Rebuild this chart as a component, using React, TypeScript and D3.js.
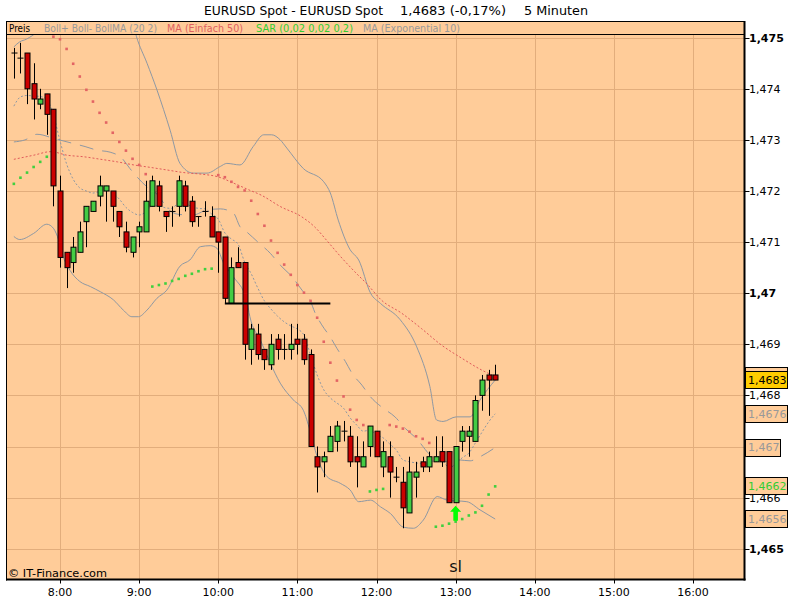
import { useEffect } from 'react';
import * as d3 from 'd3';

// 5-minute bars, first bar at 7:25
const firstBarMinute = 7 * 60 + 25;
const barMinutes = 5;

const opens = [
  1.4747, 1.4746, 1.4747, 1.4741, 1.4737, 1.4739, 1.4736, 1.472, 1.4708, 1.4706,
  1.4708, 1.4714, 1.4716, 1.4719, 1.472, 1.472, 1.4716, 1.4712, 1.4708, 1.4712,
  1.4712, 1.4717, 1.4721, 1.4716, 1.4716, 1.4717, 1.4721, 1.4718, 1.4715, 1.4716,
  1.4715, 1.4712, 1.4711, 1.4698, 1.4706, 1.4706, 1.4689, 1.4692, 1.4689, 1.4686,
  1.4691, 1.4689, 1.4689, 1.4691, 1.4691, 1.4688, 1.4668, 1.4667, 1.4669, 1.4671,
  1.4673, 1.4672, 1.4668, 1.4666, 1.467, 1.4673, 1.4666, 1.4668, 1.4664, 1.4663,
  1.4657, 1.4664, 1.4667, 1.4666, 1.4667, 1.4669, 1.4669, 1.4659, 1.4671, 1.4672,
  1.4671, 1.468, 1.4684, 1.4684,
];
const highs = [
  1.4748, 1.4749, 1.4747, 1.4745, 1.474, 1.4739, 1.4736, 1.4723, 1.4708, 1.4711,
  1.4714, 1.4717, 1.4718, 1.4723, 1.4721, 1.472, 1.4716, 1.4714, 1.4711, 1.4714,
  1.4722, 1.4723, 1.4722, 1.4716, 1.4717, 1.4723, 1.4722, 1.4719, 1.4715, 1.4718,
  1.4717, 1.4712, 1.4711, 1.4707, 1.4709, 1.4706, 1.4694, 1.4694, 1.4689, 1.4692,
  1.4692, 1.4692, 1.4694, 1.4694, 1.4692, 1.4689, 1.467, 1.4669, 1.4674, 1.4675,
  1.4675, 1.4674, 1.4672, 1.4671, 1.4674, 1.4673, 1.4671, 1.4671, 1.4666, 1.4666,
  1.4668, 1.4667, 1.4668, 1.4669, 1.4672, 1.4672, 1.4669, 1.467, 1.4674, 1.4674,
  1.468, 1.4684, 1.4685, 1.4686,
];
const lows = [
  1.4742, 1.4743, 1.4737, 1.4734, 1.4736, 1.4731, 1.4717, 1.4705, 1.4701, 1.4704,
  1.4708, 1.4709, 1.4716, 1.4717, 1.4714, 1.4714, 1.4711, 1.4708, 1.4707, 1.4709,
  1.4712, 1.4717, 1.4716, 1.4712, 1.4713, 1.4715, 1.4716, 1.4713, 1.4713, 1.4715,
  1.4711, 1.4704, 1.4698, 1.4698, 1.4705, 1.4687, 1.4686, 1.4687, 1.4685, 1.4685,
  1.4687, 1.4687, 1.4687, 1.4688, 1.4686, 1.467, 1.4661, 1.4664, 1.4669, 1.4669,
  1.4671, 1.4666, 1.4662, 1.4666, 1.4668, 1.4668, 1.4664, 1.466, 1.4663, 1.4654,
  1.4657, 1.466, 1.4665, 1.4665, 1.4667, 1.4666, 1.4659, 1.4659, 1.4669, 1.4668,
  1.4671, 1.4677, 1.4676, 1.4683,
];
const closes = [
  1.4747, 1.4746, 1.474, 1.4738, 1.4738, 1.4735, 1.4721, 1.4707, 1.4705, 1.4709,
  1.4712, 1.4717, 1.4718, 1.4721, 1.4721, 1.4717, 1.4713, 1.4709, 1.4711, 1.4713,
  1.4718, 1.4722, 1.4717, 1.4715, 1.4716, 1.4722, 1.4717, 1.4714, 1.4715, 1.4716,
  1.4711, 1.471, 1.4699, 1.4705, 1.4705, 1.469, 1.4693, 1.4688, 1.4687, 1.469,
  1.4689, 1.4689, 1.469, 1.469, 1.4687, 1.467, 1.4666, 1.4668, 1.4672, 1.4674,
  1.4673, 1.4667, 1.4667, 1.4668, 1.4674, 1.4668, 1.4669, 1.4665, 1.4664, 1.4658,
  1.4665, 1.4665, 1.4666, 1.4668, 1.4668, 1.4667, 1.4659, 1.467, 1.4673, 1.4673,
  1.4679, 1.4683, 1.4683, 1.4683,
];

// Parabolic SAR (0,02 0,02 0,2), one value per bar
const sar = [
  1.47214, 1.47226, 1.47236, 1.47247, 1.47257, 1.47267,
  1.47502, 1.47497, 1.47478, 1.47449, 1.47424, 1.47398, 1.47375, 1.47353, 1.47334, 1.47314,
  1.47296, 1.47279, 1.47263, 1.47251, 1.47233,
  1.47013, 1.47016, 1.47019, 1.47024, 1.47028, 1.47034, 1.47038, 1.47043, 1.47047, 1.47048,
  1.47231, 1.47227, 1.47218, 1.47208, 1.47201, 1.47181, 1.47155, 1.47132, 1.47103, 1.47079,
  1.47056, 1.47036, 1.47016, 1.47001, 1.46985, 1.46952, 1.46905, 1.46864, 1.46829, 1.46798,
  1.46772, 1.46752, 1.46742,
  1.46612, 1.46615, 1.46617,
  1.46742, 1.46739, 1.46735, 1.46729, 1.4672, 1.46715, 1.46707,
  1.46543, 1.46545, 1.46549, 1.46553, 1.46558, 1.46565, 1.46571, 1.46584, 1.46606, 1.46622,
];

// MA (Exponential 10), one value per bar
const ema10 = [
  1.47366, 1.47384, 1.47387, 1.47386, 1.47385, 1.47379, 1.47349, 1.47298, 1.47253, 1.47223,
  1.47206, 1.472, 1.47196, 1.47199, 1.47202, 1.47196, 1.47184, 1.47168, 1.47158, 1.47153,
  1.47159, 1.47171, 1.47171, 1.47167, 1.47166, 1.47177, 1.47176, 1.47169, 1.47166, 1.47165,
  1.47155, 1.47145, 1.47118, 1.47106, 1.47096, 1.47061, 1.47038, 1.4701, 1.46985, 1.46969,
  1.46955, 1.46944, 1.46936, 1.4693, 1.46918, 1.46879, 1.4684, 1.46811, 1.46795, 1.46785,
  1.46775, 1.46756, 1.46742, 1.4673, 1.46732, 1.46723, 1.46717, 1.46705, 1.46693, 1.46674,
  1.4667, 1.46668, 1.46666, 1.4667, 1.46672, 1.46672, 1.46658, 1.46666, 1.46678, 1.46687,
  1.46707, 1.46728, 1.46748, 1.46764,
];

// [bar index, price]
const ma50: [number, number][] = [
  [0, 1.47262], [3, 1.4727], [5.6, 1.47277], [8.1, 1.4727], [10.6, 1.47267], [13.2, 1.47262],
  [15.7, 1.47257], [18.2, 1.47251], [20.8, 1.47246], [23.3, 1.47241], [25.8, 1.47236],
  [28.4, 1.47233], [30.9, 1.47228], [33.4, 1.47215], [35.5, 1.47203], [37.5, 1.47192],
  [40.5, 1.47169], [43.6, 1.4715], [45.6, 1.4713], [47.6, 1.47101], [49.6, 1.47071],
  [51.7, 1.47042], [53.7, 1.47016], [55.7, 1.46987], [58.8, 1.46961], [61.8, 1.46931],
  [64.8, 1.46899], [67.9, 1.46873], [70.9, 1.4685], [73, 1.46837],
];
const bollUpper: [number, number][] = [
  [0, 1.47482], [0.9, 1.47492], [1.9, 1.47497], [2.9, 1.47505], [5.5, 1.47531], [9, 1.47546],
  [12.6, 1.47554], [14.6, 1.47562], [16.9, 1.47554], [18.1, 1.47525], [18.6, 1.47502],
  [20.2, 1.4745], [21.7, 1.47398], [23.7, 1.47319], [25.2, 1.47254], [27.2, 1.47235],
  [29.3, 1.47235], [31.3, 1.47248], [32.3, 1.47254], [34.3, 1.47251], [36.3, 1.47287],
  [37.9, 1.4731], [39.1, 1.4731], [40.4, 1.473], [41.4, 1.47284], [43.9, 1.47244],
  [47, 1.47218], [48, 1.47196], [49.2, 1.47143], [51, 1.47085], [52.3, 1.47065],
  [54.1, 1.47], [55.6, 1.4698], [58.6, 1.46948], [61.1, 1.46895], [63.1, 1.46817],
  [64.1, 1.46752], [65.1, 1.46749], [67.1, 1.46758], [69.2, 1.46758], [70.7, 1.46791],
  [73, 1.4683],
];
const bollLower: [number, number][] = [
  [0, 1.47111], [0.9, 1.47105], [3, 1.47117], [5, 1.47135], [6, 1.47127], [6.8, 1.47104],
  [7.5, 1.47071], [8.5, 1.47045], [10, 1.47023], [11.6, 1.47013], [13.1, 1.47003],
  [15.1, 1.46987], [16.6, 1.46967], [17.9, 1.46954], [18.9, 1.46954], [20.2, 1.46967],
  [21.7, 1.4699], [23.2, 1.47006], [25.2, 1.47053], [26.7, 1.47065], [28.3, 1.47091],
  [29.8, 1.47093], [30.8, 1.47088], [31.8, 1.47059], [33.3, 1.47032], [35.3, 1.46987],
  [35.8, 1.46954], [37.4, 1.46908], [38.9, 1.46863], [40.4, 1.46824], [42.4, 1.46791],
  [43.9, 1.46771], [44.9, 1.46732], [46, 1.4668], [47.5, 1.46641], [49.5, 1.46628],
  [51, 1.46615], [52.3, 1.46592], [54.1, 1.46595], [55.6, 1.46582], [57.1, 1.46569],
  [59.1, 1.46542], [60.6, 1.4654], [62.1, 1.46556], [64.2, 1.46602], [65.7, 1.46595],
  [68.7, 1.46592], [70.7, 1.46576], [73, 1.46558],
];
const bollMid: [number, number][] = [
  [0, 1.47296], [1.7, 1.473], [3.5, 1.47311], [6.3, 1.47302], [9, 1.47293], [10.8, 1.47287],
  [12.6, 1.4728], [14.6, 1.47276], [16.4, 1.47264], [17.6, 1.47244], [20.2, 1.47208],
  [21.7, 1.47194], [23.7, 1.47161], [25.2, 1.47154], [27.2, 1.47153], [29.3, 1.47163],
  [31.3, 1.47165], [33.3, 1.47157], [34.3, 1.4713], [35.3, 1.4712], [37.1, 1.47099],
  [38.9, 1.47078], [40.4, 1.47055], [42.2, 1.47032], [43.7, 1.47006], [44.9, 1.46987],
  [45.7, 1.46961], [46.7, 1.46938], [48, 1.46914], [49, 1.46892], [50.3, 1.46866],
  [51.3, 1.46843], [52.8, 1.4682], [54.1, 1.46797], [55.8, 1.46777], [57.8, 1.46758],
  [59.4, 1.46735], [61.1, 1.46715], [63.1, 1.46684], [65.1, 1.4667], [67.2, 1.46674],
  [69.2, 1.46672], [70.7, 1.4668], [73, 1.46698],
];

const hourLabels = ['8:00', '9:00', '10:00', '11:00', '12:00', '13:00', '14:00', '15:00', '16:00'];
const priceTicks = [1.465, 1.466, 1.467, 1.468, 1.469, 1.47, 1.471, 1.472, 1.473, 1.474, 1.475];
const boldTicks = [1.465, 1.47, 1.475];

// drawn support line and the signal arrow
const supportLevel = 1.4698;
const supportFrom = 32;
const supportTo = 48;
const signalBar = 67;

const BG = '#ffcc99';
const GRID = '#e2ad7c';
const GRAY = '#8e98a3';
const RED_LINE = '#e05a5a';
const FONT = "Tahoma, 'DejaVu Sans', sans-serif";

const box = { left: 7, right: 744.5, top: 35, bottom: 579.5 };

const toMinute = (s: string) => {
  const [h, m] = s.split(':').map(Number);
  return h * 60 + m;
};
const fmt = (v: number) => v.toFixed(4).replace(/0+$/, '').replace('.', ',');

export default function App() {
  useEffect(() => {
    document.body.style.margin = '0';
    document.body.style.background = '#ffffff';
  }, []);

  const x = d3.scaleLinear().domain([toMinute('8:00'), toMinute('16:00')]).range([60, 693]);
  const y = d3.scaleLinear().domain([1.465, 1.475]).range([548.7, 37.7]);
  const barX = (i: number) => x(firstBarMinute + barMinutes * i);

  const line = d3.line<[number, number]>()
    .x(d => barX(d[0]))
    .y(d => y(d[1]))
    .curve(d3.curveMonotoneX);
  const emaPts = ema10.map((v, i) => [i, v] as [number, number]);

  const last = closes.length - 1;
  const sideLabels = [
    { v: ma50[ma50.length - 1][1], color: '#e06060' },
    { v: ema10[last], color: '#999999' },
    { v: bollMid[bollMid.length - 1][1], color: '#999999' },
    { v: sar[last], color: '#33cc33' },
    { v: bollLower[bollLower.length - 1][1], color: '#999999' },
  ];

  const ax = barX(signalBar);
  const ay = y(lows[signalBar]) + 3;

  return (
    <svg width={800} height={600} style={{ display: 'block' }} fontFamily={FONT}>
      <defs>
        <clipPath id="plotClip">
          <rect x={box.left} y={box.top} width={box.right - box.left} height={box.bottom - box.top} />
        </clipPath>
      </defs>
      <rect x={0} y={0} width={800} height={600} fill="#ffffff" />

      {/* header */}
      <text x={204} y={15} fontSize={13} textLength={179} lengthAdjust="spacingAndGlyphs">EURUSD Spot - EURUSD Spot</text>
      <text x={400} y={15} fontSize={13} textLength={106} lengthAdjust="spacingAndGlyphs">1,4683 (-0,17%)</text>
      <text x={524} y={15} fontSize={13} textLength={64} lengthAdjust="spacingAndGlyphs">5 Minuten</text>

      {/* plot background */}
      <rect x={box.left} y={21} width={box.right - box.left} height={box.bottom - 21} fill={BG} />

      {/* grid */}
      {priceTicks.map(p => (
        <line key={`gy${p}`} x1={box.left} x2={box.right} y1={Math.round(y(p)) + 0.5} y2={Math.round(y(p)) + 0.5} stroke={GRID} />
      ))}
      {hourLabels.map(h => (
        <line key={`gx${h}`} x1={Math.round(x(toMinute(h))) + 0.5} x2={Math.round(x(toMinute(h))) + 0.5} y1={box.top} y2={box.bottom} stroke={GRID} />
      ))}

      <g clipPath="url(#plotClip)">
        {/* Bollinger bands */}
        <path d={line(bollUpper) ?? ''} fill="none" stroke={GRAY} strokeWidth={1} />
        <path d={line(bollLower) ?? ''} fill="none" stroke={GRAY} strokeWidth={1} />
        <path d={line(bollMid) ?? ''} fill="none" stroke={GRAY} strokeWidth={1} strokeDasharray="14,9" />
        {/* EMA 10 */}
        <path d={line(emaPts) ?? ''} fill="none" stroke={GRAY} strokeWidth={1} strokeDasharray="2,2" />
        {/* MA 50 */}
        <path d={line(ma50) ?? ''} fill="none" stroke={RED_LINE} strokeWidth={1} strokeDasharray="2,2" />

        {/* SAR */}
        {sar.map((v, i) => (
          <rect key={`s${i}`} x={barX(i) - 1.3} y={y(v) - 1.3} width={2.6} height={2.6}
            fill={v < lows[i] ? '#3fd03f' : '#e36464'} />
        ))}

        {/* candles */}
        {opens.map((o, i) => {
          const c = closes[i];
          const cx = Math.round(barX(i)) + 0.5;
          const top = y(Math.max(o, c));
          const bot = y(Math.min(o, c));
          return (
            <g key={`c${i}`}>
              <line x1={cx} x2={cx} y1={y(highs[i])} y2={y(lows[i])} stroke="#000" strokeWidth={1} />
              {o === c ? (
                <line x1={cx - 3} x2={cx + 3} y1={top} y2={top} stroke="#000" strokeWidth={1} />
              ) : (
                <rect x={cx - 2.5} y={top} width={5} height={bot - top}
                  fill={c > o ? '#44cc44' : '#cc0000'} stroke="#000" strokeWidth={1} />
              )}
            </g>
          );
        })}

        {/* support line */}
        <line x1={barX(supportFrom)} x2={barX(supportTo)} y1={y(supportLevel)} y2={y(supportLevel)} stroke="#000" strokeWidth={2} />

        {/* signal arrow */}
        <polygon
          points={`${ax},${ay} ${ax + 5.5},${ay + 6} ${ax + 2.3},${ay + 6} ${ax + 2.3},${ay + 15} ${ax - 2.3},${ay + 15} ${ax - 2.3},${ay + 6} ${ax - 5.5},${ay + 6}`}
          fill="#00ff00" />
      </g>

      {/* legend strip */}
      <rect x={box.left} y={21} width={box.right - box.left} height={14} fill={BG} />
      <line x1={box.left} x2={box.right} y1={21.5} y2={21.5} stroke="#000" />
      <line x1={box.left} x2={box.right} y1={34.5} y2={34.5} stroke="#000" />
      <text x={9} y={32} fontSize={10} fill="#000" textLength={21} lengthAdjust="spacingAndGlyphs">Preis</text>
      <text x={44} y={32} fontSize={10} fill="#999999" textLength={113} lengthAdjust="spacingAndGlyphs">Boll+ Boll- BollMA (20 2)</text>
      <text x={167} y={32} fontSize={10} fill="#e06060" textLength={76} lengthAdjust="spacingAndGlyphs">MA (Einfach 50)</text>
      <text x={256} y={32} fontSize={10} fill="#33cc33" textLength={97} lengthAdjust="spacingAndGlyphs">SAR (0,02 0,02 0,2)</text>
      <text x={363} y={32} fontSize={10} fill="#999999" textLength={97} lengthAdjust="spacingAndGlyphs">MA (Exponential 10)</text>

      {/* copyright and note */}
      <text x={8} y={577} fontSize={11} fill="#000" textLength={99} lengthAdjust="spacingAndGlyphs">© IT-Finance.com</text>
      <text x={ax} y={572} fontSize={16} fill="#111" textAnchor="middle">sl</text>

      {/* frame */}
      <line x1={box.left - 0.5} x2={box.left - 0.5} y1={21} y2={box.bottom + 1} stroke="#000" strokeWidth={1} />
      <line x1={box.right} x2={box.right} y1={21} y2={box.bottom + 1} stroke="#000" strokeWidth={2} />
      <line x1={box.left - 1} x2={box.right + 1} y1={box.bottom} y2={box.bottom} stroke="#000" strokeWidth={2} />

      {/* right price axis */}
      {priceTicks.map(p => (
        <g key={`py${p}`}>
          <line x1={box.right} x2={box.right + 5} y1={Math.round(y(p)) + 0.5} y2={Math.round(y(p)) + 0.5} stroke="#000" />
          <text x={749} y={y(p)} dy="0.36em" fontSize={11} fontWeight={boldTicks.includes(p) ? 'bold' : 'normal'} fill="#000">
            {fmt(p)}
          </text>
        </g>
      ))}

      {/* bottom time axis */}
      {hourLabels.map(h => (
        <g key={`tx${h}`}>
          <line x1={Math.round(x(toMinute(h))) + 0.5} x2={Math.round(x(toMinute(h))) + 0.5} y1={box.bottom} y2={box.bottom + 4} stroke="#000" />
          <text x={x(toMinute(h))} y={596} fontSize={11} textAnchor="middle" fill="#000">{h}</text>
        </g>
      ))}

      {/* last value labels */}
      {sideLabels.map((l, k) => {
        const t = fmt(l.v);
        const w = t.length > 5 ? 42 : 35;
        return (
          <g key={`sl${k}`}>
            <rect x={745.5} y={Math.round(y(l.v)) - 8.5} width={w} height={17} fill={BG} stroke="#000" />
            <text x={748} y={y(l.v)} dy="0.36em" fontSize={11} fill={l.color}>{t}</text>
          </g>
        );
      })}
      <rect x={745.5} y={Math.round(y(closes[last])) - 8.5} width={42} height={17} fill="#ffcc00" stroke="#000" />
      <text x={748} y={y(closes[last])} dy="0.36em" fontSize={11} fill="#000">{fmt(closes[last])}</text>
    </svg>
  );
}
